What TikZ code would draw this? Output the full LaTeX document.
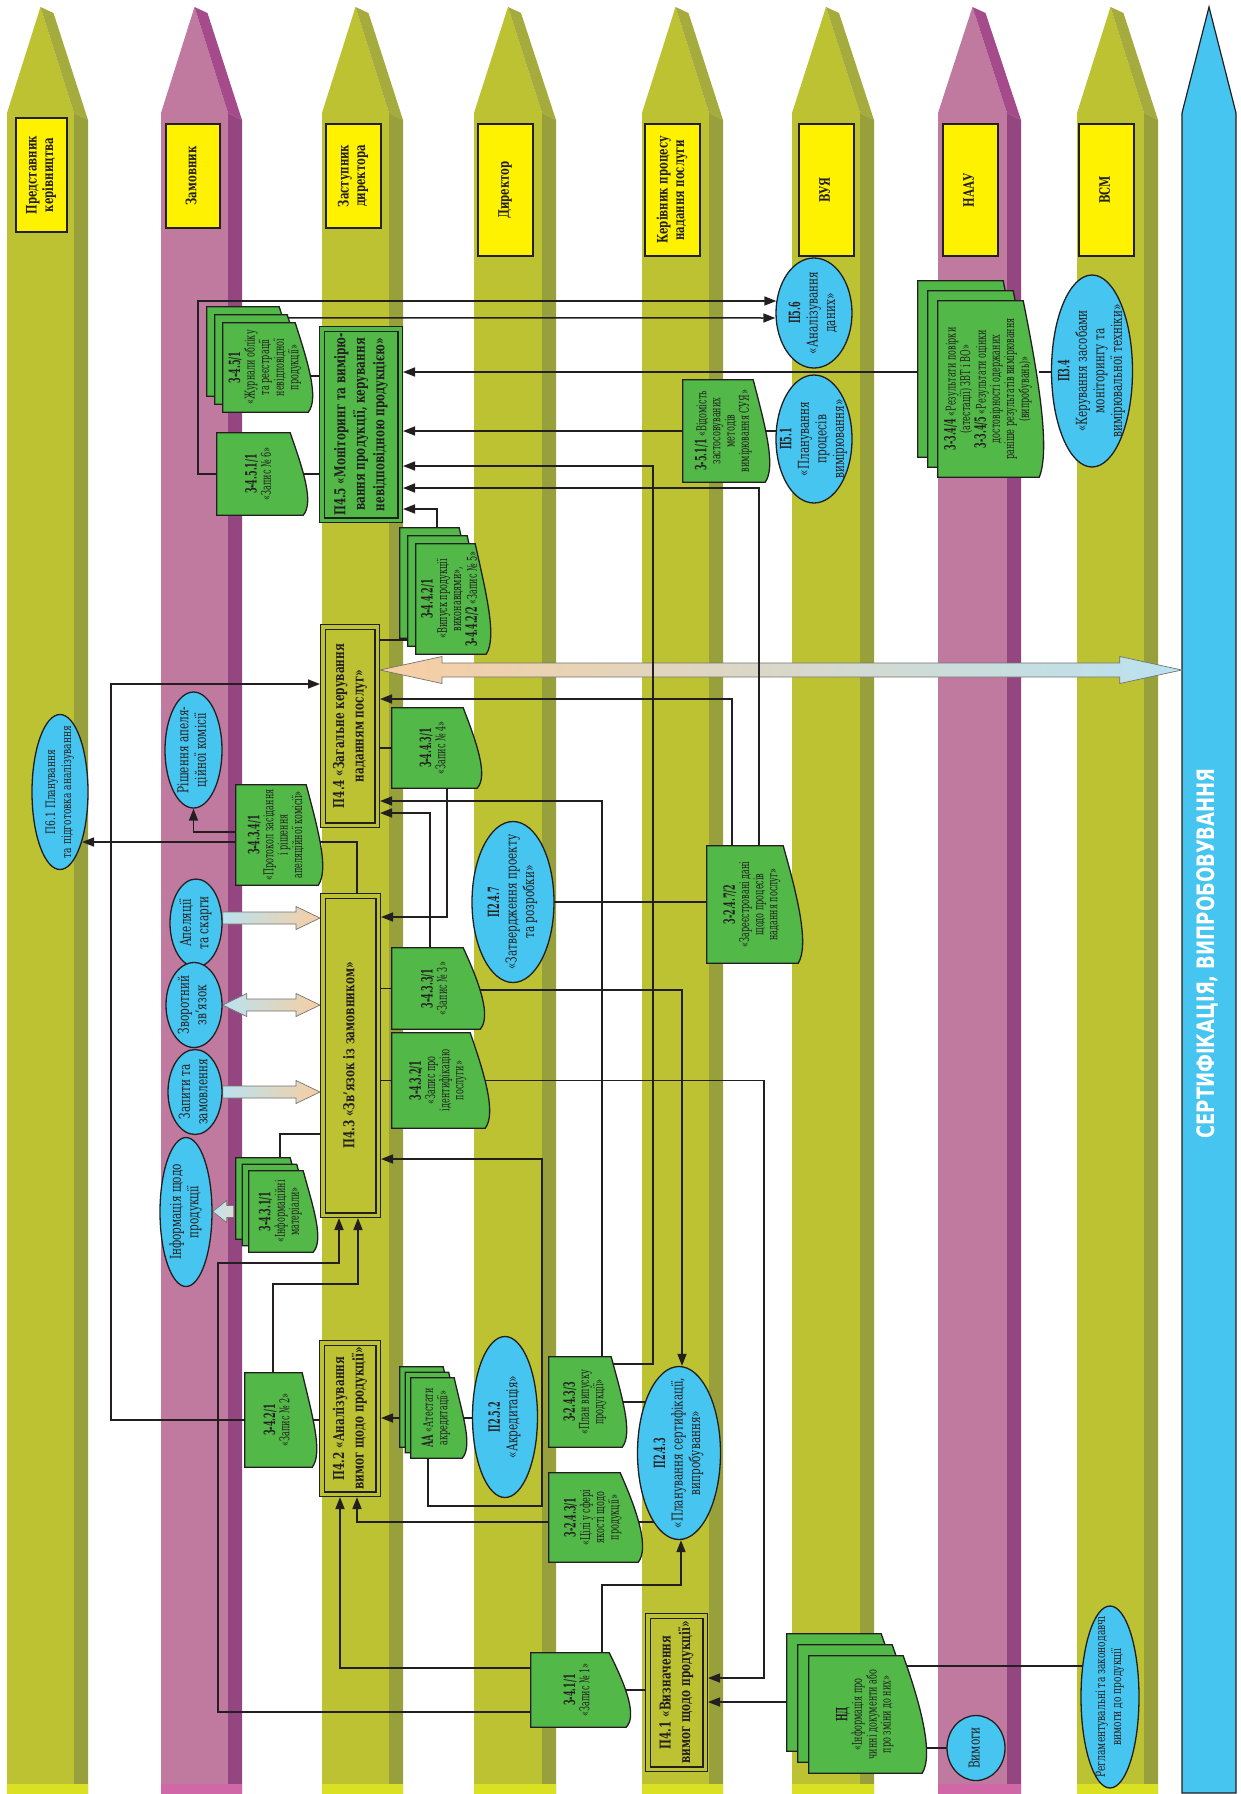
\documentclass[tikz,border=0pt]{standalone}
\usepackage{fontspec}
\setmainfont{DejaVu Serif}[FakeStretch=0.7]
\setsansfont{DejaVu Sans}[FakeStretch=0.75]
\newfontfamily\docfam{DejaVu Serif}[FakeStretch=0.6]
\newfontfamily\kodfam{DejaVu Serif}[FakeStretch=0.52]
\usepackage{graphicx}
\usepackage{xcolor}
\usepackage{tikz}
\usetikzlibrary{shapes, arrows.meta, positioning, calc, shapes.geometric}

\definecolor{laneol}{RGB}{189,194,50}
\definecolor{laneolside}{RGB}{151,160,59}
\definecolor{laneoltop}{RGB}{165,171,60}
\definecolor{laneolbot}{RGB}{218,224,34}
\definecolor{lanepk}{RGB}{192,122,160}
\definecolor{lanepkside}{RGB}{148,70,128}
\definecolor{lanepktop}{RGB}{165,75,140}
\definecolor{lanepkbot}{RGB}{208,104,168}
\definecolor{docgreen}{RGB}{82,184,72}
\definecolor{ellblue}{RGB}{69,197,240}
\definecolor{lblyellow}{RGB}{255,242,0}
\definecolor{linec}{RGB}{35,31,32}
\definecolor{fatblue}{RGB}{186,226,240}
\definecolor{fatpeach}{RGB}{247,206,163}
\definecolor{fatgrey}{RGB}{222,222,210}

\pgfdeclarelayer{bg}
\pgfdeclarelayer{edges}
\pgfdeclarelayer{docs}
\pgfsetlayers{bg,edges,docs,main}

% fonts
\newcommand{\lblfont}{\fontsize{14.5}{16.5}\selectfont\bfseries}
\newcommand{\procfont}{\fontsize{15}{19.5}\selectfont\bfseries}
\newcommand{\ellfont}{\fontsize{15}{17.5}\selectfont}
\newcommand{\docfont}{\docfam\fontsize{13.5}{14}\selectfont}
\newcommand{\bandfont}{\fontsize{24}{27}\selectfont\sffamily\bfseries}
\newcommand{\kod}[1]{{\kodfam\fontsize{15.5}{16}\selectfont\bfseries #1}}

% text turned upwards, zero size, centred on the node
\newcommand{\vt}[1]{\makebox[0pt]{\raisebox{-.5\height}[0pt][0pt]{\rotatebox{90}{\begin{tabular}{@{}c@{}}#1\end{tabular}}}}}

% swim lane: left, right, front, side, top, bottom colours
\newcommand{\drawlane}[6]{%
  \fill[#3] (#1,1794) -- (#1,113) -- ({(#1+#2)/2},7) -- (#2,113) -- (#2,1794) -- cycle;
  \fill[#5] ({(#1+#2)/2},7) -- ({(#1+#2)/2+13},13) -- (#2+14,120) -- (#2,113) -- cycle;
  \fill[#4] (#2,113) -- (#2+14,120) -- (#2+14,1794) -- (#2,1794) -- cycle;
  \fill[#6] (#1,1784) -- (#2+14,1784) -- (#2+14,1794) -- (#1,1794) -- cycle;}

% document sheet with wavy edge: node, dx, dy, inset
\newcommand{\docsheet}[4]{%
  \draw[docline] ($(#1.north west)+(#2,#3)$) -- ($(#1.north east)+({#2-#4},#3)$)
    .. controls ($(#1.north east)!0.45!(#1.south east)+(#2,#3)$)
    and ($(#1.north east)!0.85!(#1.south east)+({#2+11},#3)$)
    .. ($(#1.south east)+(#2,#3)$) -- ($(#1.south west)+(#2,#3)$) -- cycle;}
\newcommand{\docone}[2]{\begin{pgfonlayer}{docs}\docsheet{#1}{0}{0}{#2}\end{pgfonlayer}}
\newcommand{\docstack}[3]{\begin{pgfonlayer}{docs}%
  \docsheet{#1}{-#3}{-#3}{#2}\docsheet{#1}{-#3/2}{-#3/2}{#2}\docsheet{#1}{0}{0}{#2}\end{pgfonlayer}}

% wide arrows: [shading]{from}{to}{half shaft}{half head}{head length}
\newcommand{\fatone}[6][]{%
  \path[fatline,#1] let \p1=#2, \p2=#3 in
    (\x1,{\y1+#4}) -- ({\x2-(#6)},{\y1+#4}) -- ({\x2-(#6)},{\y1+#5}) -- (\x2,\y1)
    -- ({\x2-(#6)},{\y1-#5}) -- ({\x2-(#6)},{\y1-#4}) -- (\x1,{\y1-#4}) -- cycle;}
\newcommand{\fattwo}[6][]{%
  \path[fatline,#1] let \p1=#2, \p2=#3 in
    (\x1,\y1) -- ({\x1+#6},{\y1+#5}) -- ({\x1+#6},{\y1+#4}) -- ({\x2-#6},{\y1+#4})
    -- ({\x2-#6},{\y1+#5}) -- (\x2,\y1) -- ({\x2-#6},{\y1-#5}) -- ({\x2-#6},{\y1-#4})
    -- ({\x1+#6},{\y1-#4}) -- ({\x1+#6},{\y1-#5}) -- cycle;}

\begin{document}
\begin{tikzpicture}[x=1pt, y=-1pt,
    conn/.style={draw=linec, line width=1.5pt},
    arrow/.style={conn, -{Triangle[length=12pt, width=9pt]}},
    fatline/.style={draw=black!55, line width=0.7pt},
    docline/.style={draw=linec, line width=1.3pt, fill=docgreen},
    lbl/.style 2 args={rectangle, draw=linec, line width=1.5pt, fill=lblyellow, minimum width=#1, minimum height=#2, inner sep=0pt, font=\lblfont, text=linec},
    proc/.style 2 args={rectangle, draw=linec, line width=1.1pt, double=laneol, double distance=3.4pt, fill=laneol, minimum width=#1-5.6, minimum height=#2-5.6, outer sep=2.8pt, inner sep=0pt, font=\procfont, text=linec},
    ell/.style 2 args={ellipse, draw=linec, line width=1.3pt, fill=ellblue, minimum width=#1, minimum height=#2, inner sep=0pt, font=\ellfont, text=linec},
    doc/.style 2 args={rectangle, minimum width=#1, minimum height=#2, inner sep=0pt, font=\docfont, text=linec},
    band/.style={rectangle, minimum width=54, minimum height=1681, inner sep=0pt, font=\bandfont, text=white}
]
\useasboundingbox (0,0) rectangle (1241,1794);

% Lanes
\begin{pgfonlayer}{bg}
  \fill[white] (0,0) rectangle (1241,1794);
  \drawlane{7}{74}{laneol}{laneolside}{laneoltop}{laneolbot}
  \drawlane{161}{228}{lanepk}{lanepkside}{lanepktop}{lanepkbot}
  \drawlane{322}{389}{laneol}{laneolside}{laneoltop}{laneolbot}
  \drawlane{474}{542}{laneol}{laneolside}{laneoltop}{laneolbot}
  \drawlane{642}{709}{laneol}{laneolside}{laneoltop}{laneolbot}
  \drawlane{792}{860}{laneol}{laneolside}{laneoltop}{laneolbot}
  \drawlane{938}{1007}{lanepk}{lanepkside}{lanepktop}{lanepkbot}
  \drawlane{1077}{1144}{laneol}{laneolside}{laneoltop}{laneolbot}
  \filldraw[fill=ellblue, draw=linec, line width=1.2pt] (1182,1793) -- (1182,113) -- (1209,7) -- (1236,113) -- (1236,1793) -- cycle;
\end{pgfonlayer}

% Lane headers
\node[lbl={51}{114}] (hpk) at (41.5,175) {\vt{Представник\\керівництва}};
\node[lbl={54}{104}] (hzam) at (193,176) {\vt{Замовник}};
\node[lbl={55}{104}] (hzd) at (353.5,176) {\vt{Заступник\\директора}};
\node[lbl={55}{132}] (hdir) at (505.5,190) {\vt{Директор}};
\node[lbl={55}{132}] (hkp) at (672.5,190) {\vt{Керівник процесу\\надання послуги}};
\node[lbl={55}{132}] (hvuya) at (826.5,190) {\vt{ВУЯ}};
\node[lbl={55}{132}] (hnaau) at (970.5,190) {\vt{НААУ}};
\node[lbl={55}{132}] (hvsm) at (1106.5,190) {\vt{ВСМ}};
\node[band] (band) at (1209,953.5) {\vt{СЕРТИФІКАЦІЯ, ВИПРОБОВУВАННЯ}};

% Processes
\node[proc={84}{197}, fill=docgreen, double=docgreen] (p45) at (361,424.5) {\vt{П4.5 «Моніторинг та вимірю-\\вання продукції, керування\\невідповідною продукцією»}};
\node[proc={60}{204}] (p44) at (350,726) {\vt{П4.4 «Загальне керування\\наданням послуг»}};
\node[proc={61}{325}] (p43) at (350.5,1055.5) {\vt{П4.3 «Зв’язок із замовником»}};
\node[proc={62}{157}] (p42) at (350,1418.5) {\vt{П4.2 «Аналізування\\вимог щодо продукції»}};
\node[proc={63}{159}] (p41) at (676.5,1692.5) {\vt{П4.1 «Визначення\\вимог щодо продукції»}};

% Ellipses
\node[ell={56}{155}, font=\fontsize{13}{16}\selectfont] (p61) at (60,792) {\vt{П6.1 Планування\\та підготовка аналізування}};
\node[ell={57}{116}] (rishennya) at (193.5,750) {\vt{Рішення апеля-\\ційної комісії}};
\node[ell={52}{88}] (apel) at (196,923) {\vt{Апеляції\\та скарги}};
\node[ell={56}{85}] (zvorot) at (194,1005) {\vt{Зворотний\\зв’язок}};
\node[ell={54}{85}] (zapyty) at (195,1092) {\vt{Запити та\\замовлення}};
\node[ell={52}{149}] (inform) at (186,1212) {\vt{Інформація щодо\\продукції}};
\node[ell={82}{161}] (p247) at (513,902) {\vt{\kod{П2.4.7}\\«Затвердження проекту\\та розробки»}};
\node[ell={65}{161}] (p252) at (505,1417) {\vt{\kod{П2.5.2}\\«Акредитація»}};
\node[ell={83}{173}] (p243) at (679,1453) {\vt{\kod{П2.4.3}\\«Планування сертифікації,\\випробування»}};
\node[ell={76}{110}] (p56) at (814,313) {\vt{\kod{П5.6}\\«Аналізування\\даних»}};
\node[ell={76}{128}] (p51) at (814,439) {\vt{\kod{П5.1}\\«Планування\\процесів\\вимірювання»}};
\node[ell={81}{192}] (p34) at (1092,371) {\vt{\kod{П3.4}\\«Керування засобами\\моніторингу та\\вимірювальної техніки»}};
\node[ell={58}{65}] (vymogy) at (976,1748) {\vt{Вимоги}};
\node[ell={58}{182}, font=\fontsize{13}{16}\selectfont] (reglam) at (1110,1697) {\vt{Регламентувальні та законодавчі\\вимоги до продукції}};

% Documents
\node[doc={85}{89}] (zhurn) at (265.5,367.5) {\vt{\kod{3-4.5/1}\\«Журнали обліку\\та реєстрації\\невідповідної\\продукції»}};
\node[doc={86}{82}] (zap6) at (260,474) {\vt{\kod{3-4.5.1/1}\\«Запис № 6»}};
\node[doc={70}{110}] (vyp) at (451,599) {\vt{\kod{3-4.4.2/1}\\«Випуск продукції\\виконавцями»,\\\kod{3-4.4.2/2} «Запис № 5»}};
\node[doc={85}{80}] (zap4) at (434.5,748) {\vt{\kod{3-4.4.3/1}\\«Запис № 4»}};
\node[doc={82}{100}] (protok) at (277,835) {\vt{\kod{3-4.3.4/1}\\«Протокол засідання\\і рішення\\апеляційної комісії»}};
\node[doc={88}{81}] (zap3) at (436,988.5) {\vt{\kod{3-4.3.3/1}\\«Запис № 3»}};
\node[doc={93}{95}] (zapid) at (438.5,1080.5) {\vt{\kod{3-4.3.2/1}\\«Запис про\\ідентифікацію\\послуги»}};
\node[doc={64}{81}] (infm) at (281,1211.5) {\vt{\kod{3-4.3.1/1}\\«Інформаційні\\матеріали»}};
\node[doc={67}{94}] (zap2) at (278.5,1420) {\vt{\kod{3-4.2/1}\\«Запис № 2»}};
\node[doc={51}{80}] (atest) at (436.5,1418) {\vt{\kod{АА} «Атестати\\акредитації»}};
\node[doc={73}{90}] (plan) at (585.5,1402) {\vt{\kod{3-2.4.3/3}\\«План випуску\\продукції»}};
\node[doc={89}{89}] (cili) at (593.5,1517.5) {\vt{\kod{3-2.4.3/1}\\«Цілі у сфері\\якості щодо\\продукції»}};
\node[doc={91}{117}] (zareestr) at (752.5,904.5) {\vt{\kod{3-2.4.7/2}\\«Зареєстровані дані\\щодо процесів\\надання послуг»}};
\node[doc={82}{102}] (vidom) at (724,431) {\vt{\kod{3-5.1/1} «Відомість\\застосовуваних\\методів\\вимірювання СУЯ»}};
\node[doc={101}{176}] (rezult) at (988.5,389) {\vt{\kod{3-3.4/4} «Результати повірки\\(атестації) ЗВТ і ВО»\\\kod{3-3.4/5} «Результати оцінки\\достовірності одержаних\\раніше результатів вимірювання\\(випробувань)»}};
\node[doc={113}{117}] (nd) at (865.5,1714.5) {\vt{\kod{НД}\\«Інформація про\\чинні документи або\\про зміни до них»}};
\node[doc={95}{74}] (zap1) at (578.5,1690) {\vt{\kod{3-4.1/1}\\«Запис № 1»}};

\docstack{zhurn}{13}{16}
\docone{zap6}{13}
\docstack{vyp}{11}{16}
\docone{zap4}{14}
\docone{protok}{12}
\docone{zap3}{17}
\docone{zapid}{15}
\docstack{infm}{10}{13}
\docone{zap2}{10}
\docstack{atest}{8}{11}
\docone{plan}{11}
\docone{cili}{18}
\docone{zareestr}{15}
\docone{vidom}{12}
\docstack{rezult}{16}{20}
\docstack{nd}{19}{22}
\docone{zap1}{17}

\begin{pgfonlayer}{edges}
% Wide arrows
\fatone[left color=fatblue, right color=fatpeach]{($(apel.east)+(0,-5)$)}{($(apel.east -| p43.west)+(0,-5)$)}{6}{11.5}{24}
\fattwo[left color=fatblue, right color=fatpeach]{(zvorot.east)}{(zvorot.east -| p43.west)}{6}{11.5}{24}
\fatone[left color=fatblue, right color=fatpeach]{(zapyty.east)}{(zapyty.east -| p43.west)}{6}{11.5}{24}
\fatone[left color=fatblue, right color=fatgrey]{($(infm.west)+(-15,0)$)}{(infm.west -| inform.east)}{6}{11}{-14}
\fattwo[left color=fatpeach, right color=fatblue]{($(p44.east)+(0,-56)$)}{($(p44.east -| band.west)+(0,-56)$)}{7}{13.5}{62}

% To П5.6 and П4.5
\draw[arrow] (zap6.west) -- ++(-19,0) |- ($(p56.west)+(1,-12)$);
\draw[arrow] ($(zhurn.north east)+(-22,-5)$) -- ($(p56.west)+(0,5)$);
\draw[conn] ($(zhurn.east)+(0,8.5)$) -- ($(zhurn.east -| p45.west)+(0,8.5)$);
\draw[conn] (zap6.east) -- (zap6.east -| p45.west);
\draw[arrow] ($(rezult.west)+(-20,-17)$) -- ($(rezult.west -| p45.east)+(0,-17)$);
\draw[conn] ($(rezult.east)+(0,-17)$) -- ($(rezult.east -| p34.center)+(0,-17)$);
\draw[arrow] (vidom.west) -- (vidom.west -| p45.east);
\draw[conn] (vidom.east) -- (vidom.east -| p51.center);
\draw[arrow] ($(plan.north east)+(-10,7)$) -- ++(41,0) |- ($(p45.east)+(0,41.5)$);
\draw[arrow] ($(zareestr.north)+(6.5,0)$) |- ($(p45.east)+(0,63.5)$);
\draw[arrow] ($(vyp.north)+(-14,-16)$) |- ($(p45.east)+(0,84.5)$);

% To П4.4
\draw[arrow] (zap2.west) -- ++(-134,0) |- ($(p44.west)+(0,-42)$);
\draw[arrow] ($(zareestr.north)+(-20.5,0)$) |- ($(p44.east)+(0,-27)$);
\draw[conn] ($(vyp.west)+(-8,41)$) -- ($(vyp.west -| p44.east)+(0,41)$);
\draw[conn] (zap4.west) -- (zap4.west -| p44.east);
\draw[arrow] ($(plan.north)+(16.5,0)$) |- ($(p44.east)+(0,75)$);
\draw[arrow] ($(zap3.north)+(-6,0)$) |- ($(p44.east)+(0,87)$);

% Around П4.3
\draw[conn] ($(p43.north)+(6.5,0)$) |- ($(protok.east)+(0,7)$);
\draw[arrow] ($(protok.west)+(0,7)$) -- ($(p61.east)+(-6.6,50)$);
\draw[arrow] ($(protok.west)+(0,-3)$) -| (rishennya.south);
\draw[arrow] ($(zap4.south)+(12.5,0)$) |- ($(p43.east)+(0,-138.5)$);
\draw[conn] (zap3.west) -- (zap3.west -| p43.east);
\draw[arrow] ($(zap3.east)+(0,1.5)$) -| ($(p243.north)+(3,0)$);
\draw[conn] (zapid.west) -- (zapid.west -| p43.east);
\draw[arrow] (zapid.east) -- ++(279,0) |- ($(p41.east)+(0,-14.5)$);
\draw[conn] ($(infm.north)+(-1,-13)$) |- ($(p43.west)+(0,78.5)$);
\draw[arrow] ($(atest.south)+(-8.5,0)$) -- ++(0,48) -- ++(114,0) |- ($(p43.east)+(0,103.5)$);
\draw[arrow] ($(zap2.north)+(-5.5,0)$) -- ++(0,-89) -| ($(p43.south)+(7.5,0)$);
\draw[arrow] ($(zap1.west)+(0,22)$) -- ++(-313,0) |- ($(p43.south)+(-11.5,45)$) -- ($(p43.south)+(-11.5,0)$);

% Around П4.2
\draw[conn] (zap2.east) -- (zap2.east -| p42.west);
\draw[arrow] ($(atest.west)+(-11,0)$) -- (atest.west -| p42.east);
\draw[conn] (atest.east) -- (atest.east -| p252.center);
\draw[arrow] ($(cili.west)+(0,4.5)$) -| ($(p42.south)+(7,0)$);
\draw[arrow] ($(zap1.west)+(0,-22)$) -| ($(p42.south)+(-10,0)$);

% П2.4.x and П4.1
\draw[conn] (p247.center) -- (p247.center -| zareestr.west);
\draw[conn] (plan.east) -- (plan.east -| p243.center);
\draw[conn] ($(cili.east)+(0,4.5)$) -- ($(cili.east -| p243.center)+(0,4.5)$);
\draw[arrow] ($(zap1.north)+(23.5,0)$) -- ++(0,-68) -| ($(p243.south)+(2,0)$);
\draw[conn] (zap1.east) -- (zap1.east -| p41.west);
\draw[arrow] ($(nd.west)+(-22,-12.5)$) -- ($(nd.west -| p41.east)+(0,-12.5)$);
\draw[conn] ($(nd.north east)+(-17,10)$) -- ($(nd.north east -| reglam.center)+(0,10)$);
\draw[conn] (vymogy.center) -- (vymogy.center -| nd.east);
\end{pgfonlayer}

\end{tikzpicture}
\end{document}
